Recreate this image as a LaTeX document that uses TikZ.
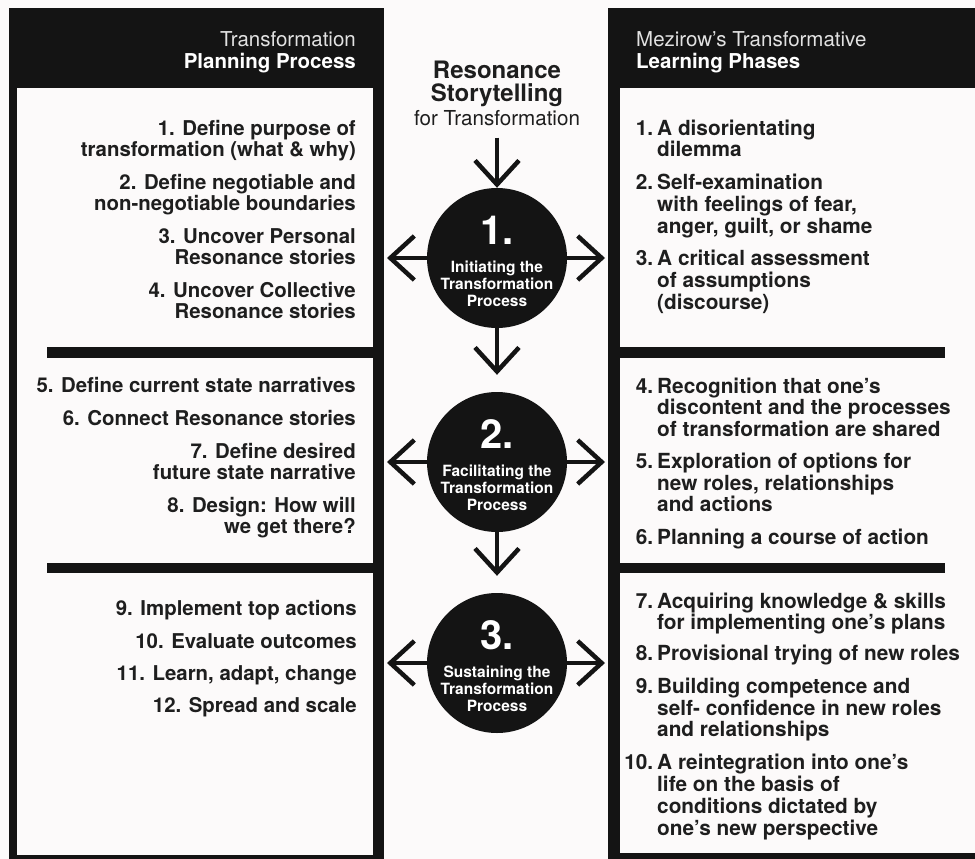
\documentclass[tikz,border=0pt]{standalone}
\usepackage{fontspec}
\setmainfont{TeX Gyre Heros}
\usepackage{array}
\usetikzlibrary{arrows.meta}
\definecolor{noir}{HTML}{141414}
\definecolor{fond}{HTML}{FCFAFA}
\definecolor{texte}{HTML}{1E1E1E}
\definecolor{gris}{HTML}{E2E2E2}
\newcolumntype{N}{>{\raggedleft\arraybackslash}p{30pt}}

\begin{document}
\begin{tikzpicture}[x=1pt,y=-1pt,
  fleche/.style={line width=4.5pt,noir,-{Straight Barb[length=24pt,width=44pt]}},
  cercle/.style={circle,fill=noir,minimum size=140pt,inner sep=0pt},
  chiffre/.style={font=\bfseries\fontsize{40}{40}\selectfont,text=white,inner sep=0pt,anchor=base},
  etape/.style={font=\bfseries\fontsize{15.5}{17}\selectfont,text=white,align=center,inner sep=0pt,anchor=base},
  entete/.style={font=\bfseries\fontsize{20.5}{22}\selectfont,text=white,inner sep=0pt},
  corps/.style={font=\bfseries\fontsize{20.8}{21}\selectfont,text=texte,inner sep=0pt},
  gauche/.style={corps,font=\bfseries\fontsize{20.4}{21}\selectfont,align=right,anchor=base east},
  droite/.style={corps,anchor=base west}]
\useasboundingbox (0,0) rectangle (975,859);
%fond
\fill[fond] (0,0) rectangle (975,859);
%panneau gauche
\fill[noir] (9,8) rectangle (384,859);
\fill[fond] (17,88) rectangle (373,855);
\fill[noir] (47,347) rectangle (373,358);
\fill[noir] (47,563) rectangle (373,573);
%panneau droit
\fill[noir] (608,8) rectangle (975,859);
\fill[fond] (620,88) rectangle (975,853);
\fill[noir] (620,347) rectangle (945,358);
\fill[noir] (620,563) rectangle (945,573);
%en-tetes (ancre = derniere ligne)
\node[entete,align=right,anchor=base east] (tg) at (356,69) {{\mdseries\color{gris}Transformation}\\Planning Process};
\node[entete,align=left,anchor=base west] (td) at (636,69) {{\mdseries\color{gris}Mezirow’s Transformative}\\Learning Phases};
%titre central
\node[font=\bfseries\fontsize{24}{22}\selectfont,text=texte,align=center,inner sep=0pt,anchor=base] (titre) at (497,101) {Resonance\\Storytelling};
\node[font=\fontsize{20.6}{22}\selectfont,text=texte,inner sep=0pt,anchor=base] (sous) at (497,125) {for Transformation};
%cercles et fleches
\foreach \i/\y/\mot in {1/258/Initiating,2/462/Facilitating,3/663/Sustaining}{
  \node[cercle] (c\i) at (497,\y) {};
  \node[chiffre] (n\i) at ([yshift=14pt]c\i.center) {\i.};
  \node[etape] (e\i) at ([yshift=-48pt]c\i.center) {\mot\ the\\Transformation\\Process};
  \coordinate (g\i) at (387,\y);
  \coordinate (d\i) at (605,\y);
  \draw[fleche] (c\i) -- (g\i);
  \draw[fleche] (c\i) -- (d\i);
}
\draw[fleche,shorten <=12pt] (sous) -- (c1);
\draw[fleche,shorten >=17pt] (c1) -- (c2);
\draw[fleche,shorten >=17pt] (c2) -- (c3);
%texte gauche (ancre = derniere ligne)
\node[gauche] (p1) at (356,318) {1. Define purpose of\\transformation (what \& why)\\[12pt]2. Define negotiable and\\non-negotiable boundaries\\[12pt]3. Uncover Personal\\Resonance stories\\[12pt]4. Uncover Collective\\Resonance stories};
\node[gauche] (p2) at (356,533) {5. Define current state narratives\\[12pt]6. Connect Resonance stories\\[12pt]7. Define desired\\future state narrative\\[12pt]8. Design: How will\\we get there?};
\node[gauche] (p3) at (357,712) {9. Implement top actions\\[12pt]10. Evaluate outcomes\\[11pt]11. Learn, adapt, change\\[11pt]12. Spread and scale};
%texte droit
\node[droite] (m1) at (623,135) {\begin{tabular}[t]{@{}N@{\hspace{4pt}}l@{}}
1. & A disorientating\\
   & dilemma\\[11pt]
2. & Self-examination\\
   & with feelings of fear,\\
   & anger, guilt, or shame\\[11pt]
3. & A critical assessment\\
   & of assumptions\\
   & (discourse)
\end{tabular}};
\node[droite] (m2) at (623,393) {\begin{tabular}[t]{@{}N@{\hspace{4pt}}l@{}}
4. & Recognition that one’s\\
   & discontent and the processes\\
   & of transformation are shared\\[10pt]
5. & Exploration of options for\\
   & new roles, relationships\\
   & and actions\\[11pt]
6. & Planning a course of action
\end{tabular}};
\node[droite] (m3) at (623,608) {\begin{tabular}[t]{@{}N@{\hspace{4pt}}l@{}}
7. & Acquiring knowledge \& skills\\
   & for implementing one’s plans\\[9pt]
8. & Provisional trying of new roles\\[11pt]
9. & Building competence and\\
   & self- confidence in new roles\\
   & and relationships\\[11pt]
10. & A reintegration into one’s\\
    & life on the basis of\\
    & conditions dictated by\\
    & one’s new perspective
\end{tabular}};
\end{tikzpicture}
\end{document}
